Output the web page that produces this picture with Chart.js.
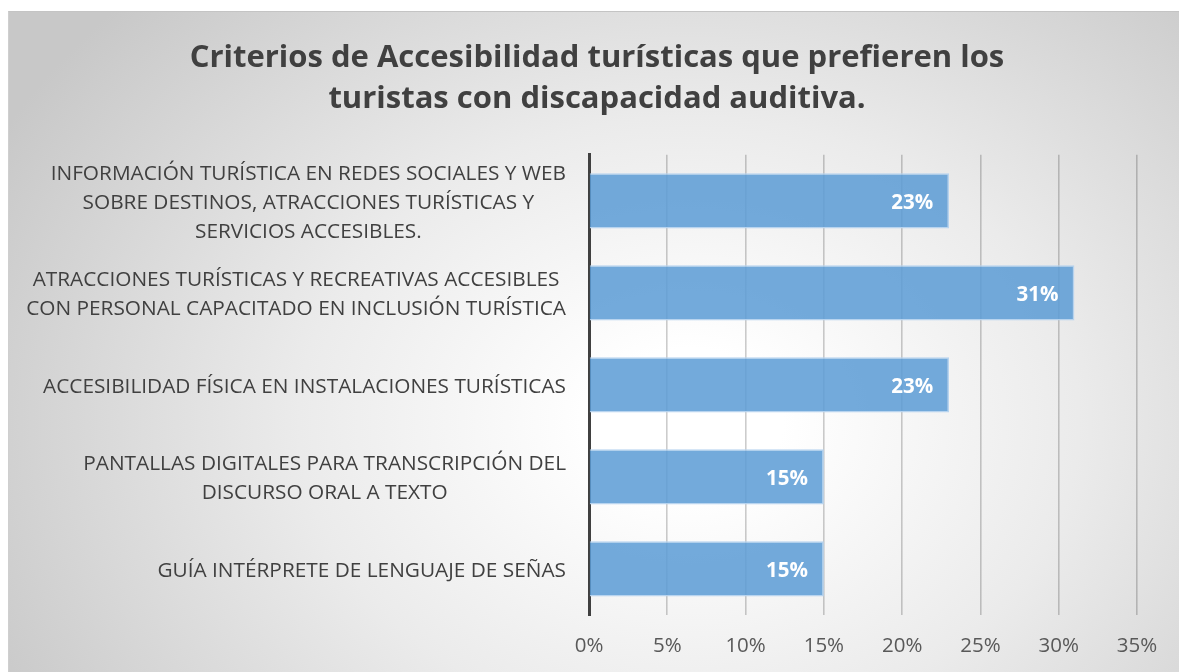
<!DOCTYPE html>
<html>
<head>
<meta charset="utf-8">
<script src="https://cdn.jsdelivr.net/npm/chart.js@4"></script>
<style>
html,body{margin:0;padding:0;width:1179px;height:672px;overflow:hidden;background:#fff;}
#box{position:absolute;left:8px;top:11px;width:1178px;height:661px;box-sizing:border-box;
  border-top:1px solid #c4c4c4;border-left:1px solid #cfcfcf;
  background:radial-gradient(ellipse 780px 610px at 680px 410px,#ffffff 0%,#ffffff 12%,#ebebeb 50%,#c8c8c8 100%);}
#wrap{position:absolute;left:8px;top:11px;width:1178px;height:661px;}
</style>
</head>
<body>
<div id="box"></div>
<div id="wrap"><canvas id="c"></canvas></div>
<script>
const titleLines = ["Criterios de Accesibilidad turísticas que prefieren los", "turistas con discapacidad auditiva."];
const categories = [
  ["INFORMACIÓN TURÍSTICA EN REDES SOCIALES Y WEB", "SOBRE DESTINOS, ATRACCIONES TURÍSTICAS Y", "SERVICIOS ACCESIBLES."],
  ["ATRACCIONES TURÍSTICAS Y RECREATIVAS ACCESIBLES ", "CON PERSONAL CAPACITADO EN INCLUSIÓN TURÍSTICA"],
  ["ACCESIBILIDAD FÍSICA EN INSTALACIONES TURÍSTICAS"],
  ["PANTALLAS DIGITALES PARA TRANSCRIPCIÓN DEL", "DISCURSO ORAL A TEXTO"],
  ["GUÍA INTÉRPRETE DE LENGUAJE DE SEÑAS"]
];
const values = [23, 31, 23, 15, 15];
const xTickMax = 35;
const xTickStep = 5;

const FONT = "'Open Sans', sans-serif";

const catLabelPlugin = {
  id: 'catLabels',
  afterDraw(chart) {
    const ctx = chart.ctx;
    const ys = chart.scales.y;
    const right = chart.chartArea.left - 23;
    ctx.save();
    ctx.font = "20.8px " + FONT;
    ctx.fillStyle = '#404040';
    ctx.textAlign = 'center';
    ctx.textBaseline = 'middle';
    const lh = 29;
    categories.forEach((lines, i) => {
      const y = ys.getPixelForValue(i) + 2;
      let w = 0;
      lines.forEach(l => { w = Math.max(w, ctx.measureText(l.trimEnd()).width); });
      const cx = right - w / 2;
      lines.forEach((l, k) => {
        ctx.fillText(l.trimEnd(), cx, y + (k - (lines.length - 1) / 2) * lh);
      });
    });
    ctx.restore();
  }
};

const valueLabelPlugin = {
  id: 'valueLabels',
  afterDatasetsDraw(chart) {
    const ctx = chart.ctx;
    const meta = chart.getDatasetMeta(0);
    ctx.save();
    ctx.font = "bold 20.5px " + FONT;
    ctx.fillStyle = '#ffffff';
    ctx.textAlign = 'right';
    ctx.textBaseline = 'middle';
    meta.data.forEach((bar, i) => {
      ctx.fillText(values[i] + '%', bar.x - 16, bar.y + 2);
    });
    ctx.restore();
  }
};

new Chart(document.getElementById('c'), {
  type: 'bar',
  data: {
    labels: categories,
    datasets: [{
      data: values,
      backgroundColor: 'rgba(91,155,213,0.85)',
      borderColor: 'rgba(180,210,238,0.95)',
      borderWidth: 1.5,
      barPercentage: 0.6,
      categoryPercentage: 1.0
    }]
  },
  options: {
    indexAxis: 'y',
    responsive: true,
    maintainAspectRatio: false,
    animation: false,
    layout: { padding: { left: 49, right: 49, top: 0, bottom: 0 } },
    plugins: {
      legend: { display: false },
      tooltip: { enabled: false },
      title: {
        display: true,
        text: titleLines,
        color: '#404040',
        font: { family: FONT, size: 31, weight: 'bold', lineHeight: 1.32 },
        padding: { top: 27, bottom: 35 }
      }
    },
    scales: {
      x: {
        min: 0,
        max: xTickMax,
        ticks: {
          stepSize: xTickStep,
          callback: v => v + '%',
          color: '#595959',
          font: { family: FONT, size: 20.5 },
          padding: 19
        },
        grid: { color: 'rgba(0,0,0,0.2)', lineWidth: 1.6, drawTicks: false },
        border: { display: false },
        afterFit(scale) { scale.height = 57; }
      },
      y: {
        ticks: { display: false },
        grid: { display: false, drawTicks: false },
        border: { display: true, color: '#404040', width: 3 },
        afterFit(scale) { scale.width = 532; }
      }
    }
  },
  plugins: [catLabelPlugin, valueLabelPlugin]
});
</script>
</body>
</html>
